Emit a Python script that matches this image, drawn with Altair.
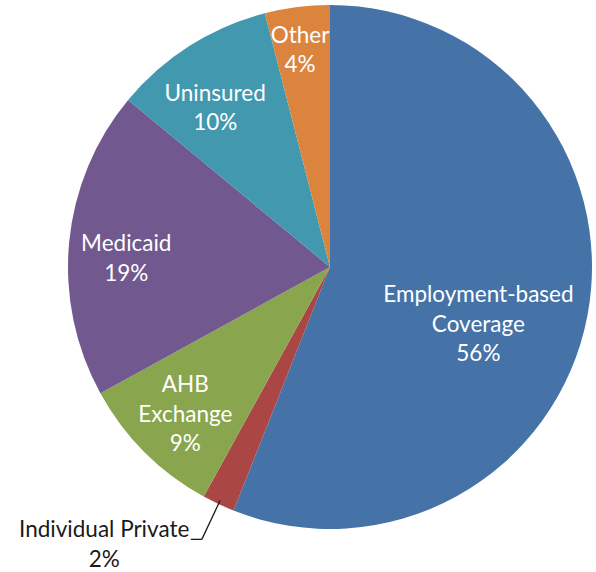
import altair as alt
import pandas as pd

# ---- data ----
categories = ["Employment-based Coverage", "Individual Private", "AHB Exchange",
              "Medicaid", "Uninsured", "Other"]
values = [56, 2, 9, 19, 10, 4]
name_lines = ["Employment-based\nCoverage", "Individual Private", "AHB\nExchange",
              "Medicaid", "Uninsured", "Other"]
colors = ["#4572A7", "#AA4643", "#89A54E", "#71588F", "#4198AF", "#DB843D"]

# ---- layout (first-line label anchor relative to each slice's mid-angle) ----
label_radius = [151, 347, 187, 205, 208, 233]
label_shift_deg = [-0.1, 15.4, 5.7, 1.0, -1.1, -0.2]
CX, CY, R = 330, 267, 262

df = pd.DataFrame({
    "order": list(range(len(categories))),
    "category": categories,
    "value": values,
    "label": [f"{n}\n{v}%" for n, v in zip(name_lines, values)],
    "lr": label_radius,
    "shift": label_shift_deg,
})

base = alt.Chart(df).transform_window(
    cum="sum(value)", sort=[alt.SortField("order")]
).transform_calculate(
    mid="(datum.cum - datum.value/2) / 100 * 2 * PI"
)

arcs = alt.Chart(df).mark_arc(outerRadius=R).encode(
    x=alt.value(CX), y=alt.value(CY),
    theta=alt.Theta("value:Q", stack=True, scale=alt.Scale(domain=[0, 100])),
    order=alt.Order("order:Q"),
    color=alt.Color("category:N", scale=alt.Scale(domain=categories, range=colors), legend=None),
)

labels = base.transform_calculate(
    ang="datum.mid + datum.shift * PI / 180"
).mark_text(font="Lato", fontSize=22.5, lineHeight=29.5, lineBreak="\n",
            align="center", baseline="middle").encode(
    x=alt.value(CX), y=alt.value(CY),
    theta=alt.Theta("ang:Q", scale=None),
    radius=alt.Radius("lr:Q", scale=None),
    text="label:N",
    color=alt.condition(alt.datum.category == "Individual Private",
                        alt.value("#1a1a1a"), alt.value("#ffffff")),
)

lead_base = base.transform_filter(alt.datum.category == "Individual Private").transform_calculate(
    x0=f"{CX} + {R - 4} * sin(datum.mid)", y0=f"{CY} - {R - 4} * cos(datum.mid)",
    x1=f"{CX} + {R + 39} * sin(datum.mid)", y1=f"{CY} - {R + 39} * cos(datum.mid)",
    x2="datum.x1 - 11",
)
lead1 = lead_base.mark_rule(color="#1a1a1a", strokeWidth=1.3).encode(
    x=alt.X("x0:Q", scale=None, axis=None), x2="x1:Q",
    y=alt.Y("y0:Q", scale=None, axis=None), y2="y1:Q",
)
lead2 = lead_base.mark_rule(color="#1a1a1a", strokeWidth=1.3).encode(
    x=alt.X("x1:Q", scale=None, axis=None), x2="x2:Q",
    y=alt.Y("y1:Q", scale=None, axis=None),
)

chart = alt.layer(arcs, labels, lead1, lead2).resolve_scale(
    theta="independent", radius="independent"
).properties(
    width=596, height=572, padding=0, autosize=alt.AutoSizeParams(type="none"),
    background="white",
).configure_view(stroke=None)

chart.save("out.html", embed_options={"renderer": "svg", "actions": False})
